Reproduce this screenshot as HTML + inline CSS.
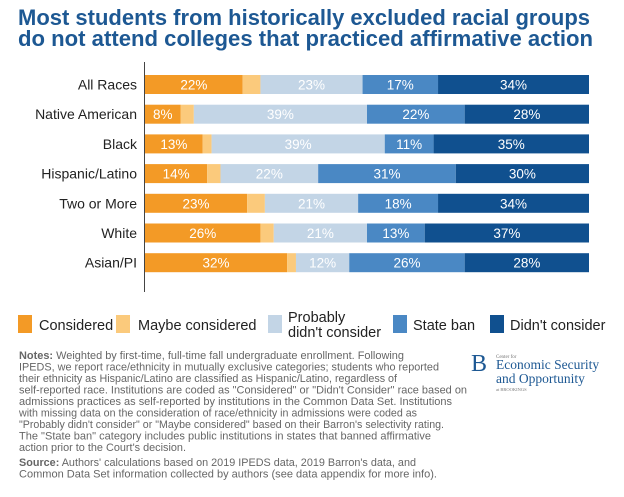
<!DOCTYPE html>
<html><head><meta charset="utf-8"><style>
html,body{margin:0;padding:0;background:#fff}
svg{display:block;font-family:"Liberation Sans",Arial,sans-serif}
</style></head><body>
<svg id="chart" width="624" height="497" viewBox="0 0 624 497">
<text x="18" y="25" font-size="22" font-weight="bold" fill="#1d5893" textLength="572" lengthAdjust="spacingAndGlyphs">Most students from historically excluded racial groups</text>
<text x="18" y="46" font-size="22" font-weight="bold" fill="#1d5893" textLength="575" lengthAdjust="spacingAndGlyphs">do not attend colleges that practiced affirmative action</text>
<line x1="144.5" y1="62" x2="144.5" y2="292" stroke="#444" stroke-width="1"/>
<g id="bars"></g>
<g>
<rect x="18" y="315" width="14" height="18" fill="#f39a26"/>
<text x="39" y="330" font-size="14.5" fill="#222">Considered</text>
<rect x="116" y="315" width="14" height="18" fill="#fbca7c"/>
<text x="138" y="330" font-size="14.5" fill="#222">Maybe considered</text>
<rect x="268" y="315" width="14" height="18" fill="#c3d5e6"/>
<text x="288" y="322" font-size="14.5" fill="#222">Probably</text>
<text x="288" y="337" font-size="14.5" fill="#222">didn't consider</text>
<rect x="393" y="315" width="14" height="18" fill="#4a88c4"/>
<text x="413" y="330" font-size="14.5" fill="#222">State ban</text>
<rect x="490" y="315" width="14" height="18" fill="#10508f"/>
<text x="510" y="330" font-size="14.5" fill="#222">Didn't consider</text>
</g>
<g font-size="11" fill="#666" lengthAdjust="spacingAndGlyphs">
<text x="19" y="359" textLength="385" lengthAdjust="spacingAndGlyphs"><tspan font-weight="bold">Notes:</tspan> Weighted by first-time, full-time fall undergraduate enrollment. Following</text>
<text x="19" y="370.5" textLength="420" lengthAdjust="spacingAndGlyphs">IPEDS, we report race/ethnicity in mutually exclusive categories; students who reported</text>
<text x="19" y="382" textLength="378" lengthAdjust="spacingAndGlyphs">their ethnicity as Hispanic/Latino are classified as Hispanic/Latino, regardless of</text>
<text x="19" y="393.5" textLength="448" lengthAdjust="spacingAndGlyphs">self-reported race. Institutions are coded as "Considered" or "Didn't Consider" race based on</text>
<text x="19" y="405" textLength="433" lengthAdjust="spacingAndGlyphs">admissions practices as self-reported by institutions in the Common Data Set. Institutions</text>
<text x="19" y="416.5" textLength="398" lengthAdjust="spacingAndGlyphs">with missing data on the consideration of race/ethnicity in admissions were coded as</text>
<text x="19" y="428" textLength="425" lengthAdjust="spacingAndGlyphs">"Probably didn't consider" or "Maybe considered" based on their Barron's selectivity rating.</text>
<text x="19" y="439.5" textLength="412" lengthAdjust="spacingAndGlyphs">The "State ban" category includes public institutions in states that banned affirmative</text>
<text x="19" y="451" textLength="167" lengthAdjust="spacingAndGlyphs">action prior to the Court's decision.</text>
<text x="19" y="466" textLength="397" lengthAdjust="spacingAndGlyphs"><tspan font-weight="bold">Source:</tspan> Authors' calculations based on 2019 IPEDS data, 2019 Barron's data, and</text>
<text x="19" y="477.5" textLength="418" lengthAdjust="spacingAndGlyphs">Common Data Set information collected by authors (see data appendix for more info).</text>
</g>
<g font-family="'Liberation Serif',serif" fill="#1d5893">
<text x="471" y="371" font-size="24">B</text>
<text x="496" y="358" font-size="5" fill="#777">Center for</text>
<text x="496" y="369" font-size="13.5">Economic Security</text>
<text x="496" y="383" font-size="13.5">and Opportunity</text>
<text x="496" y="391" font-size="4.5" fill="#777">at BROOKINGS</text>
</g>
</svg>
<script>
const categories=["All Races","Native American","Black","Hispanic/Latino","Two or More","White","Asian/PI"];
const considered=[22,8,13,14,23,26,32];
const maybeConsidered=[4,3,2,3,4,3,2];
const probablyNot=[23,39,39,22,21,21,12];
const stateBan=[17,22,11,31,18,13,26];
const didntConsider=[34,28,35,30,34,37,28];
const series=[considered,maybeConsidered,probablyNot,stateBan,didntConsider];
const seriesNames=["considered","maybe-considered","probably-didnt-consider","state-ban","didnt-consider"];
const colors=["#f39a26","#fbca7c","#c3d5e6","#4a88c4","#10508f"];
const X0=145,X1=589,Y0=75,STEP=29.7,BH=19;
const xs=v=>X0+v/100*(X1-X0);
const ys=i=>Y0+i*STEP;
const NS="http://www.w3.org/2000/svg";
const g=document.getElementById('bars');
categories.forEach((c,i)=>{
  const t=document.createElementNS(NS,'text');
  
  
  t.setAttribute('x',137);t.setAttribute('y',ys(i)+BH/2+5);
  t.setAttribute('text-anchor','end');t.setAttribute('font-size','14');t.setAttribute('fill','#222');
  t.textContent=c;g.appendChild(t);
  let cum=0;
  series.forEach((s,k)=>{
    const v=s[i];
    const r=document.createElementNS(NS,'rect');
    
    
    r.setAttribute('x',xs(cum));r.setAttribute('y',ys(i));
    r.setAttribute('width',xs(cum+v)-xs(cum));r.setAttribute('height',BH);
    r.setAttribute('fill',colors[k]);g.appendChild(r);
    if(k!==1){
      const l=document.createElementNS(NS,'text');
      
      
      l.setAttribute('x',(xs(cum)+xs(cum+v))/2);l.setAttribute('y',ys(i)+BH/2+5);
      l.setAttribute('text-anchor','middle');l.setAttribute('font-size','13.5');l.setAttribute('fill','#fff');
      l.textContent=v+'%';g.appendChild(l);
    }
    cum+=v;
  });
});
</script>
</body></html>
